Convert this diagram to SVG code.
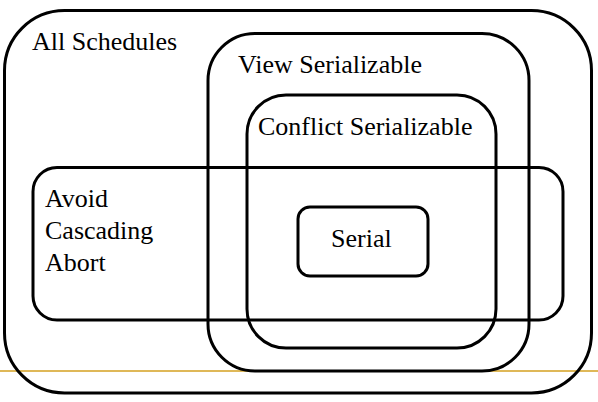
<svg xmlns="http://www.w3.org/2000/svg" width="598" height="402" viewBox="0 0 598 402">
<style>
.box{fill:none;stroke:#000;stroke-width:3}
text{font-family:"Liberation Serif","Times New Roman",serif;font-size:26px;fill:#000}
</style>
<rect width="598" height="402" fill="#fff"/>
<line x1="0" y1="371" x2="598" y2="371" stroke="#D4A020" stroke-width="1.5"/>
<g id="all-schedules">
<rect class="box" x="4.5" y="10.5" width="587" height="382.5" rx="60" ry="60"/>
<text x="32" y="50">All Schedules</text>
</g>
<g id="view-serializable">
<rect class="box" x="208" y="33.5" width="321" height="337.5" rx="47" ry="47"/>
<text x="238" y="73">View Serializable</text>
</g>
<g id="conflict-serializable">
<rect class="box" x="247" y="95" width="249" height="253" rx="39" ry="39"/>
<text x="258" y="135">Conflict Serializable</text>
</g>
<g id="avoid-cascading-abort">
<rect class="box" x="33" y="167.5" width="530" height="152.5" rx="24" ry="24"/>
<text x="45" y="207">Avoid</text>
<text x="45" y="239">Cascading</text>
<text x="45" y="271">Abort</text>
</g>
<g id="serial">
<rect class="box" x="298" y="207" width="130" height="69" rx="12" ry="12"/>
<text x="331" y="247">Serial</text>
</g>
<g id="connectors"></g>
</svg>
